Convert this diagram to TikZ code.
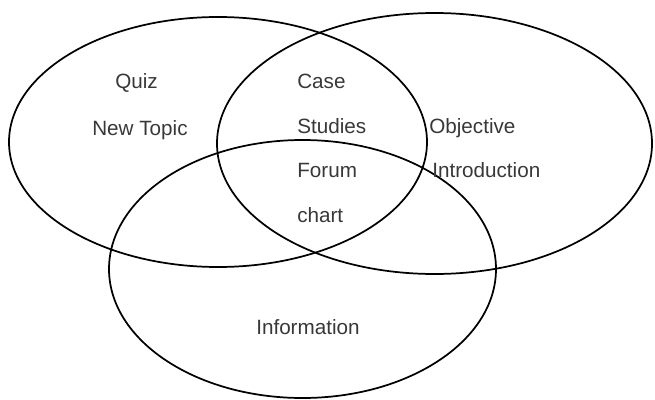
\documentclass[tikz,border=0pt]{standalone}
\usepackage{fontspec}
\setmainfont{Liberation Sans}
\tikzset{
  venn/.style={line width=1.3pt},
  lbl/.style={anchor=base west, inner sep=0pt, text=black!78, font=\fontsize{15.5}{18}\selectfont}
}

\begin{document}
\begin{tikzpicture}[x=0.75pt,y=0.75pt]
			%%%%% START %%%%%
			\useasboundingbox (0,0) rectangle (655,-399);
			
			\draw[venn] (218,-142) ellipse (209 and 125);
			\draw[venn] (434.5,-143.5) ellipse (217.5 and 130.5);
			\draw[venn] (302.5,-269) ellipse (193.5 and 129);
			
			\node[lbl] (quiz) at (115,-89) {Quiz};
			\node[lbl] (newtopic) at (92,-135) {New Topic};
			
			\node[lbl] (case) at (297,-89) {Case};
			\node[lbl] (studies) at (297,-133) {Studies};
			\node[lbl] (forum) at (297,-177) {Forum};
			\node[lbl] (chart) at (297,-222) {chart};
			
			\node[lbl] (objective) at (429,-133) {Objective};
			\node[lbl] (intro) at (432,-177) {Introduction};
			
			\node[lbl] (info) at (256,-334) {Information};
			
			%%%%% END %%%%%
\end{tikzpicture}
\end{document}
